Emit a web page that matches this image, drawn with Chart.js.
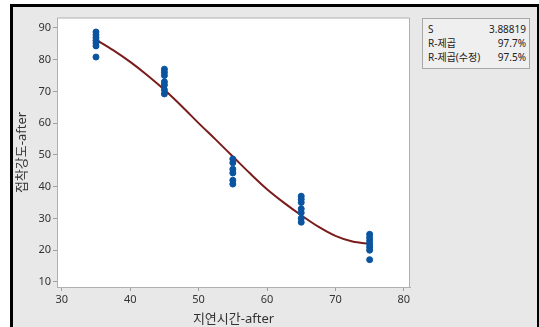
<!DOCTYPE html>
<html>
<head>
<meta charset="utf-8">
<script src="https://cdn.jsdelivr.net/npm/chart.js@4"></script>
<style>
  body { margin: 0; background: #fff; }
  .wrap { position: relative; width: 539px; height: 327px; }
  #stats {
    position: absolute; left: 422px; top: 18px; width: 106px; height: 49px;
    border: 1px solid #a8a8a8; background: #efefef;
    font: 10px 'Noto Sans', 'Noto Sans CJK KR', sans-serif; color: #222;
  }
  #stats div { display: flex; justify-content: space-between; padding: 0 3px 0 5px; height: 14px; line-height: 14px; }
  #stats div:first-child { margin-top: 3px; }
</style>
</head>
<body>
<div class="wrap">
  <canvas id="fitChart" width="539" height="327"></canvas>
  <div id="stats">
    <div><span>S</span><span>3.88819</span></div>
    <div><span>R-제곱</span><span>97.7%</span></div>
    <div><span>R-제곱(수정)</span><span>97.5%</span></div>
  </div>
</div>
<script>
// 관측값 (지연시간, 접착강도)
const xLevels = [35, 45, 55, 65, 75];
const y35 = [88.7, 87.8, 86.9, 86.0, 85.2, 84.3, 80.8];
const y45 = [77.0, 76.0, 75.0, 73.0, 72.0, 70.5, 69.2];
const y55 = [48.7, 47.5, 45.5, 44.3, 42.0, 40.8];
const y65 = [37.0, 36.0, 35.0, 33.0, 31.8, 30.0, 28.8];
const y75 = [25.0, 24.0, 23.0, 22.0, 21.0, 20.0, 17.0];

// 적합선
const fitX = [35, 37.5, 40, 42.5, 45, 47.5, 50, 52.5, 55, 57.5, 60, 62.5, 65, 67.5, 70, 72.5, 75];
const fitY = [86.3, 83.0, 79.3, 75.1, 70.5, 65.4, 60.0, 54.8, 49.5, 44.2, 39.2, 34.9, 31.0, 27.4, 24.5, 22.7, 22.0];

const xTicks = [30, 40, 50, 60, 70, 80];
const yTicks = [10, 20, 30, 40, 50, 60, 70, 80, 90];

const groups = [y35, y45, y55, y65, y75];
const points = [];
groups.forEach((ys, i) => ys.forEach(v => points.push({ x: xLevels[i], y: v })));
const fitLine = fitX.map((x, i) => ({ x: x, y: fitY[i] }));

const FONT = "'Noto Sans', 'Noto Sans CJK KR', sans-serif";

// 배경 프레임
const framePlugin = {
    id: 'frame',
    beforeDraw(chart) {
        const ctx = chart.ctx;
        const a = chart.chartArea;
        ctx.save();
        ctx.fillStyle = '#ffffff';
        ctx.fillRect(0, 0, 539, 327);
        ctx.fillStyle = '#000000';
        ctx.fillRect(10, 4, 529, 323);
        ctx.fillStyle = '#e8e8e8';
        ctx.fillRect(13, 7, 524, 320);
        ctx.fillStyle = '#ffffff';
        ctx.fillRect(a.left, a.top, a.right - a.left, a.bottom - a.top);
        ctx.strokeStyle = '#b0b0b0';
        ctx.lineWidth = 1;
        ctx.beginPath();
        ctx.moveTo(a.left + 0.5, a.top);
        ctx.lineTo(a.right - 0.5, a.top);
        ctx.lineTo(a.right - 0.5, a.bottom);
        ctx.stroke();
        ctx.restore();
    }
};

new Chart(document.getElementById('fitChart'), {
    type: 'scatter',
    data: {
        datasets: [{
            type: 'line',
            label: '적합선',
            data: fitLine,
            borderColor: '#7a1c1c',
            borderWidth: 2,
            pointRadius: 0,
            cubicInterpolationMode: 'monotone',
            fill: false,
            order: 2
        }, {
            label: '접착강도-after',
            data: points,
            backgroundColor: '#0a54a0',
            borderColor: '#0a54a0',
            pointRadius: 3,
            order: 1
        }]
    },
    options: {
        responsive: false,
        animation: false,
        layout: { padding: { left: 12, top: 18, right: 129, bottom: 0 } },
        plugins: {
            legend: { display: false },
            tooltip: { enabled: false }
        },
        scales: {
            x: {
                type: 'linear',
                min: 29.3,
                max: 80.9,
                afterBuildTicks: axis => { axis.ticks = xTicks.map(v => ({ value: v })); },
                afterFit: scale => { scale.height = 40; },
                border: { color: '#b0b0b0', width: 1 },
                grid: { drawOnChartArea: false, drawTicks: true, tickLength: 4, color: '#a0a0a0' },
                ticks: { padding: 2, color: '#333', font: { family: FONT, size: 11 }, maxRotation: 0 },
                title: {
                    display: true,
                    text: '지연시간-after',
                    color: '#333',
                    font: { family: FONT, size: 13 },
                    padding: { top: 0, bottom: 0 }
                }
            },
            y: {
                type: 'linear',
                min: 8.4,
                max: 93.1,
                afterBuildTicks: axis => { axis.ticks = yTicks.map(v => ({ value: v })); },
                afterFit: scale => { scale.width = 45; },
                border: { color: '#b0b0b0', width: 1 },
                grid: { drawOnChartArea: false, drawTicks: true, tickLength: 4, color: '#a0a0a0' },
                ticks: { padding: 2, color: '#333', font: { family: FONT, size: 11 } },
                title: {
                    display: true,
                    text: '접착강도-after',
                    color: '#333',
                    font: { family: FONT, size: 13 },
                    padding: { top: 2, bottom: 0 }
                }
            }
        }
    },
    plugins: [framePlugin]
});
</script>
</body>
</html>
